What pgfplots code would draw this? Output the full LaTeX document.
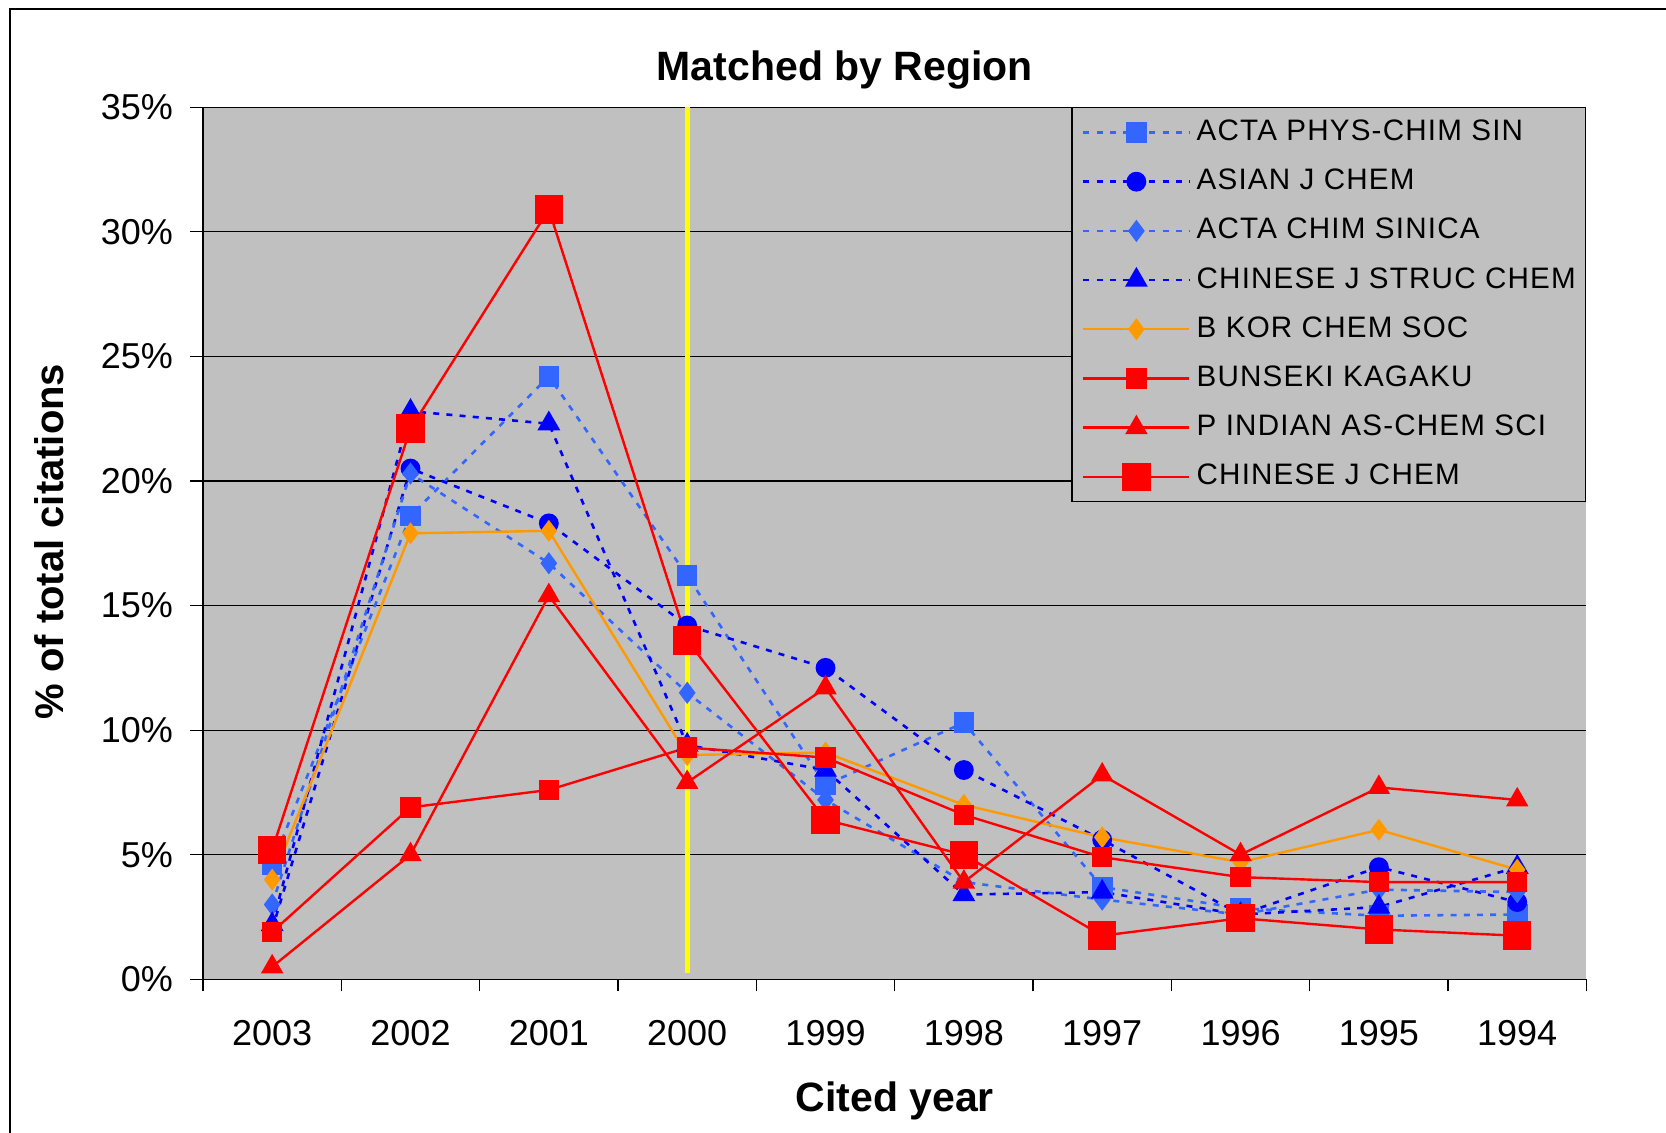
\documentclass[border=0pt]{standalone}
\usepackage{fontspec}
\setmainfont{Liberation Sans}
\newfontfamily\legfont[LetterSpace=4]{Liberation Sans}
\usepackage{pgfplots}
\usepackage{pgfplotstable}
\pgfplotsset{compat=1.18}

\definecolor{plotbg}{RGB}{192,192,192}
\definecolor{ltblue}{RGB}{51,102,255}
\definecolor{dkblue}{RGB}{0,0,255}
\definecolor{korange}{RGB}{255,153,0}
\definecolor{kred}{RGB}{255,0,0}
\definecolor{kyellow}{RGB}{255,255,0}

% share of total citations (%), by cited year
\pgfplotstableread{
idx year actaphys asian actachim struc bkor bunseki pindian cjchem
0 2003  4.6  2.0  3.0  2.2  4.0  1.9  0.5  5.2
1 2002 18.6 20.5 20.3 22.8 17.9  6.9  5.0 22.1
2 2001 24.2 18.3 16.7 22.3 18.0  7.6 15.4 30.9
3 2000 16.2 14.2 11.5  9.4  9.0  9.3  7.9 13.6
4 1999  7.8 12.5  7.2  8.4  9.1  8.9 11.7  6.4
5 1998 10.3  8.4  3.9  3.4  7.0  6.6  3.9  5.0
6 1997  3.7  5.6  3.2  3.5  5.7  4.9  8.2  1.75
7 1996  2.85 2.6  2.6  2.6  4.7  4.1  5.0  2.45
8 1995  2.55 4.5  3.6  2.9  6.0  3.9  7.7  2.0
9 1994  2.6  3.1  3.5  4.5  4.4  3.9  7.2  1.75
}\citedata

\begin{document}
\begin{tikzpicture}
\begin{axis}[
  scale only axis,
  width=691.7pt, height=436pt,
  xmin=-0.5, xmax=9.5, ymin=0, ymax=35,
  axis background/.style={fill=plotbg},
  axis lines=left,
  axis line style={-, line width=0.6pt, black},
  xtick={0,...,9},
  xticklabels={2003,2002,2001,2000,1999,1998,1997,1996,1995,1994},
  minor xtick={-0.5,0.5,...,9.5},
  major x tick style={draw=none},
  major tick length=6.5pt,
  minor tick length=6pt,
  tick align=outside,
  tick style={black, line width=0.6pt},
  ytick={0,5,...,35},
  yticklabels={0\%,5\%,10\%,15\%,20\%,25\%,30\%,35\%},
  ymajorgrids,
  grid style={black, line width=0.6pt},
  ticklabel style={font=\fontsize{18}{20}\selectfont},
  xticklabel style={yshift=-10.5pt},
  yticklabel style={xshift=-5pt},
  title={Matched by Region},
  title style={at={(axis description cs:0.4639,1.029)}, anchor=center,
    font=\bfseries\fontsize{20.5}{24}\selectfont},
  xlabel={Cited year},
  xlabel style={at={(axis description cs:0.5,-0.14)}, anchor=center,
    font=\bfseries\fontsize{20.5}{24}\selectfont},
  ylabel={\% of total citations},
  ylabel style={at={(axis description cs:-0.111,0.502)}, anchor=center,
    font=\bfseries\fontsize{20}{24}\selectfont},
  legend cell align=left,
  legend image code/.code={
    \draw[mark repeat=2,mark phase=2] plot coordinates {(0pt,0pt) (26.5pt,0pt) (53pt,0pt)};},
  legend style={at={(1,1)}, anchor=north east,
    fill=plotbg, draw=black, line width=0.6pt,
    inner xsep=5pt, inner ysep=5.3pt,
    font=\legfont\fontsize{14.8}{16}\selectfont,
    row sep=10.6pt, column sep=3pt,
    nodes={inner sep=0pt, text height=11pt, text depth=3pt}},
  dashline/.style={line width=1.3pt, dash pattern=on 3pt off 3.6pt},
  solidline/.style={line width=1.2pt},
]
\addplot[ltblue, dashline, mark=square*, mark size=4.5pt,
  mark options={solid, fill=ltblue, draw=ltblue}]
  table[x=idx, y=actaphys]{\citedata};
\addlegendentry{ACTA PHYS-CHIM SIN}
\addplot[dkblue, dashline, mark=*, mark size=4.3pt,
  mark options={solid, fill=dkblue, draw=dkblue}]
  table[x=idx, y=asian]{\citedata};
\addlegendentry{ASIAN J CHEM}
\addplot[ltblue, dashline, mark=diamond*, mark size=4.5pt,
  mark options={solid, fill=ltblue, draw=ltblue}]
  table[x=idx, y=actachim]{\citedata};
\addlegendentry{ACTA CHIM SINICA}
\addplot[dkblue, dashline, mark=triangle*, mark size=5.3pt,
  mark options={solid, fill=dkblue, draw=dkblue}]
  table[x=idx, y=struc]{\citedata};
\addlegendentry{CHINESE J STRUC CHEM}
\addplot[korange, solidline, mark=diamond*, mark size=4.5pt,
  mark options={fill=korange, draw=korange}]
  table[x=idx, y=bkor]{\citedata};
\addlegendentry{B KOR CHEM SOC}
\addplot[kred, solidline, mark=square*, mark size=4.5pt,
  mark options={fill=kred, draw=kred}]
  table[x=idx, y=bunseki]{\citedata};
\addlegendentry{BUNSEKI KAGAKU}
\addplot[kred, solidline, mark=triangle*, mark size=5.3pt,
  mark options={fill=kred, draw=kred}]
  table[x=idx, y=pindian]{\citedata};
\addlegendentry{P INDIAN AS-CHEM SCI}
\addplot[kred, solidline, mark=square*, mark size=6.5pt,
  mark options={fill=kred, draw=kred}]
  table[x=idx, y=cjchem]{\citedata};
\addlegendentry{CHINESE J CHEM}
% yellow divider at cited year 2000
\addplot[kyellow, line width=2.5pt, forget plot] coordinates {(3,0.27) (3,35)};
\end{axis}
\draw[line width=0.8pt] (-96.5pt,-90pt) -- (-96.5pt,485.15pt) -- (740pt,485.15pt);
\pgfresetboundingbox
\path[use as bounding box] (-101.5pt,-76.85pt) rectangle (731.5pt,489.65pt);
\end{tikzpicture}
\end{document}
